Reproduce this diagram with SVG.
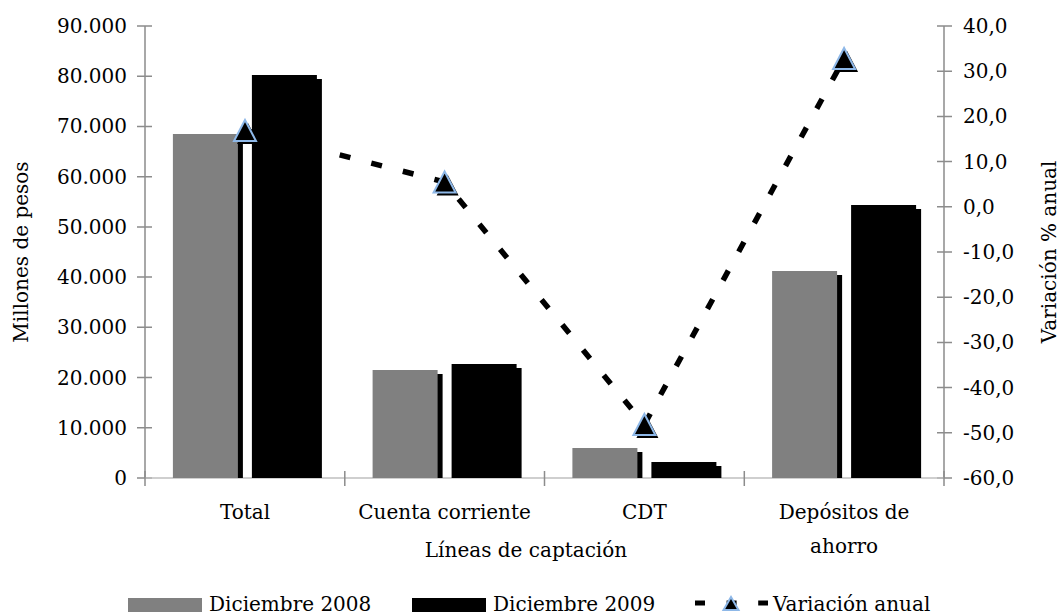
<svg xmlns="http://www.w3.org/2000/svg" width="1059" height="614" viewBox="0 0 1059 614">
<style>
text{font-family:"DejaVu Serif","Liberation Serif",serif;font-size:20px;fill:#000}
.axis{stroke:#8c8c8c;stroke-width:1.5;fill:none}
.hax{stroke:#bfbfbf;stroke-width:1.5;fill:none}
.g{fill:#808080}
.k{fill:#000}
.sh{fill:#000}
.ln{fill:none;stroke:#000;stroke-width:5.5;stroke-dasharray:11 21.6}
.tri{fill:#000;stroke:#8EB8E8;stroke-width:2;stroke-linejoin:miter}
.l{text-anchor:end}
.m{text-anchor:middle}
</style>
<defs>
<path id="tr" d="M0,-10.5 L11,10.5 L-11,10.5 Z"/>
<path id="trs" d="M0,-7 L7.5,6 L-7.5,6 Z"/>
</defs>
<rect width="1059" height="614" fill="#fff"/>

<g id="axes">
<path class="axis" d="M145,26 V478 M944,26 V478"/>
<path class="axis" d="M137,26 H152 M137,76.2 H152 M137,126.4 H152 M137,176.7 H152 M137,226.9 H152 M137,277.1 H152 M137,327.3 H152 M137,377.6 H152 M137,427.8 H152 M137,478 H152"/>
<path class="axis" d="M937,26 H952 M937,71.2 H952 M937,116.4 H952 M937,161.6 H952 M937,206.8 H952 M937,252 H952 M937,297.2 H952 M937,342.4 H952 M937,387.6 H952 M937,432.8 H952 M937,478 H952"/>
<path class="hax" d="M145,478 H944"/>
<path class="axis" d="M145,471 V486 M344.8,471 V486 M544.5,471 V486 M744.3,471 V486 M944,471 V486"/>
</g>

<g id="left-labels">
<text class="l" x="127" y="33">90.000</text>
<text class="l" x="127" y="83.2">80.000</text>
<text class="l" x="127" y="133.4">70.000</text>
<text class="l" x="127" y="183.7">60.000</text>
<text class="l" x="127" y="233.9">50.000</text>
<text class="l" x="127" y="284.1">40.000</text>
<text class="l" x="127" y="334.3">30.000</text>
<text class="l" x="127" y="384.6">20.000</text>
<text class="l" x="127" y="434.8">10.000</text>
<text class="l" x="127" y="485">0</text>
</g>
<g id="right-labels">
<text x="963" y="33">40,0</text>
<text x="963" y="78.2">30,0</text>
<text x="963" y="123.4">20,0</text>
<text x="963" y="168.6">10,0</text>
<text x="963" y="213.8">0,0</text>
<text x="963" y="259">-10,0</text>
<text x="963" y="304.2">-20,0</text>
<text x="963" y="349.4">-30,0</text>
<text x="963" y="394.6">-40,0</text>
<text x="963" y="439.8">-50,0</text>
<text x="963" y="485">-60,0</text>
</g>
<g id="axis-titles">
<text class="m" transform="translate(28,252) rotate(-90)">Millones de pesos</text>
<text class="m" transform="translate(1056,252) rotate(-90)">Variación % anual</text>
<text class="m" x="526" y="557">Líneas de captación</text>
</g>
<g id="category-labels">
<text class="m" x="245" y="519">Total</text>
<text class="m" x="444.6" y="519">Cuenta corriente</text>
<text class="m" x="644.4" y="519">CDT</text>
<text class="m" x="844.1" y="519">Depósitos de</text>
<text class="m" x="844.1" y="553">ahorro</text>
</g>

<g id="bar-total">
<rect class="sh" x="177.9" y="138" width="65" height="340"/>
<rect class="g" x="172.9" y="134" width="65" height="344"/>
<rect class="sh" x="256.9" y="79" width="65" height="399"/>
<rect class="k" x="251.9" y="75" width="65" height="403"/>
</g>
<g id="bar-cuenta-corriente">
<rect class="sh" x="377.6" y="374" width="65" height="104"/>
<rect class="g" x="372.6" y="370" width="65" height="108"/>
<rect class="sh" x="456.6" y="368" width="65" height="110"/>
<rect class="k" x="451.6" y="364" width="65" height="114"/>
</g>
<g id="bar-cdt">
<rect class="sh" x="577.4" y="452" width="65" height="26"/>
<rect class="g" x="572.4" y="448" width="65" height="30"/>
<rect class="sh" x="656.4" y="466" width="65" height="12"/>
<rect class="k" x="651.4" y="462" width="65" height="16"/>
</g>
<g id="bar-depositos">
<rect class="sh" x="777.1" y="275" width="65" height="203"/>
<rect class="g" x="772.1" y="271" width="65" height="207"/>
<rect class="sh" x="856.1" y="209" width="65" height="269"/>
<rect class="k" x="851.1" y="205" width="65" height="273"/>
</g>

<g id="connectors">
<path class="ln" d="M245,130.5 L444.6,182 L644.4,424.5 L844.1,58.5"/>
</g>

<g id="markers">
<use href="#tr" x="248" y="133.5" fill="#000"/>
<use href="#tr" x="245" y="130.5" class="tri"/>
<use href="#tr" x="447.6" y="185" fill="#000"/>
<use href="#tr" x="444.6" y="182" class="tri"/>
<use href="#tr" x="647.4" y="427.5" fill="#000"/>
<use href="#tr" x="644.4" y="424.5" class="tri"/>
<use href="#tr" x="847.1" y="61.5" fill="#000"/>
<use href="#tr" x="844.1" y="58.5" class="tri"/>
</g>

<g id="legend">
<rect class="g" x="128" y="598" width="74" height="14"/>
<text x="209" y="611">Diciembre 2008</text>
<rect class="k" x="412" y="598" width="74" height="14"/>
<text x="493" y="611">Diciembre 2009</text>
<path d="M695,603 H768" fill="none" stroke="#000" stroke-width="5" stroke-dasharray="10 21.6"/>
<use href="#trs" x="731" y="604" class="tri"/>
<text x="773" y="611">Variación anual</text>
</g>
</svg>
